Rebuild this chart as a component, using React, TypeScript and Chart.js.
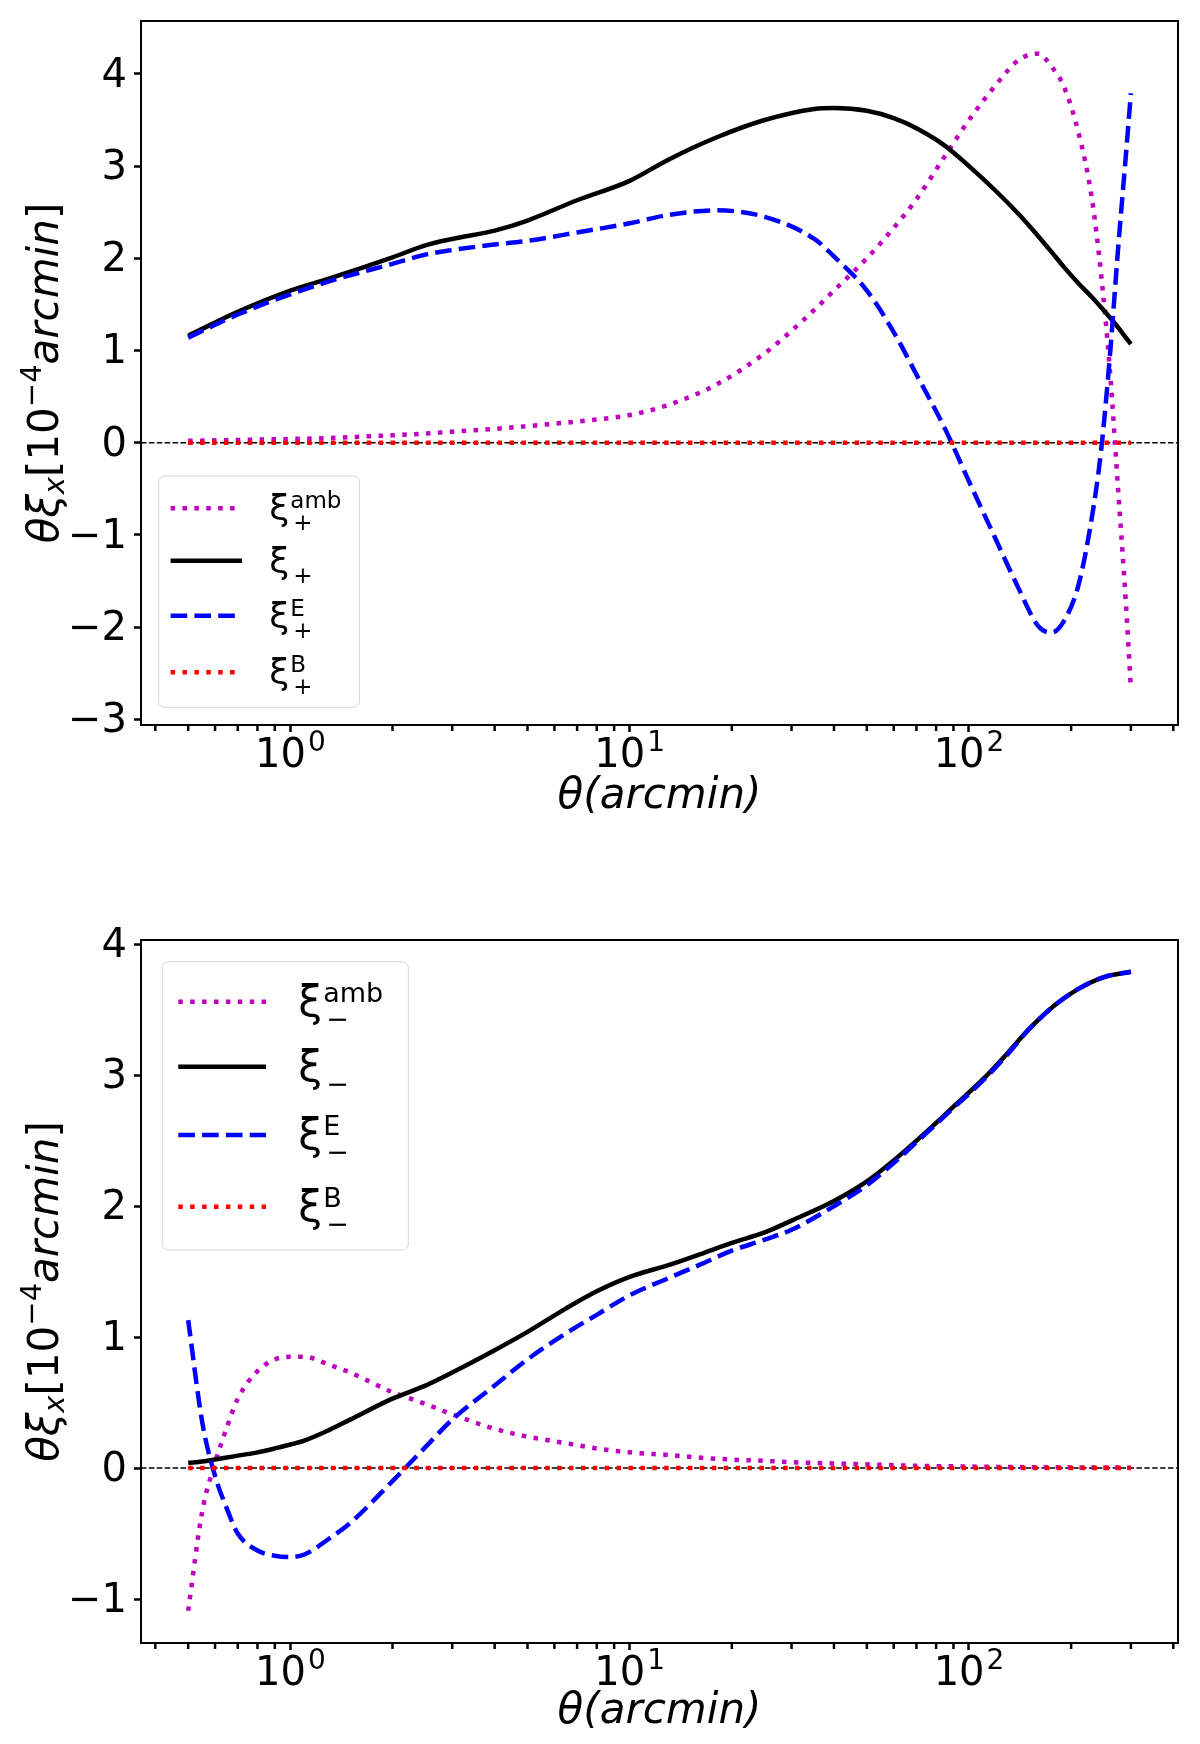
import { useEffect, useRef } from 'react';
import { Chart, registerables } from 'chart.js';

Chart.register(...registerables);

const FONT = "'DejaVu Sans', sans-serif";

// upper panel: xi_plus family
const thetaPlus = [0.5, 0.7, 1, 1.3, 1.7, 2, 2.5, 3, 4, 5, 7, 10, 13, 18, 25, 35, 40, 50, 60, 70, 85, 100, 120, 140, 160, 175, 190, 210, 230, 245, 260, 275, 290, 300];
const xiPlusAmb = [0.02, 0.03, 0.04, 0.05, 0.07, 0.08, 0.1, 0.12, 0.15, 0.18, 0.23, 0.3, 0.41, 0.63, 0.97, 1.44, 1.65, 2.0, 2.33, 2.64, 3.11, 3.5, 3.88, 4.15, 4.22, 4.08, 3.87, 3.37, 2.66, 1.83, 0.8, -0.5, -1.74, -2.67];
const xiPlus = [1.16, 1.42, 1.65, 1.78, 1.92, 2.01, 2.14, 2.21, 2.3, 2.41, 2.63, 2.84, 3.07, 3.31, 3.5, 3.62, 3.63, 3.6, 3.52, 3.41, 3.22, 3.0, 2.73, 2.48, 2.24, 2.07, 1.91, 1.73, 1.58, 1.47, 1.36, 1.25, 1.14, 1.07];
const xiPlusE = [1.14, 1.39, 1.61, 1.75, 1.87, 1.94, 2.04, 2.09, 2.15, 2.19, 2.28, 2.38, 2.47, 2.52, 2.45, 2.21, 2.02, 1.65, 1.2, 0.74, 0.15, -0.42, -1.05, -1.58, -1.99, -2.06, -1.94, -1.55, -0.82, -0.09, 0.93, 2.1, 3.12, 3.79];
const xiPlusB = [0, 0, 0, 0, 0, 0, 0, 0, 0, 0, 0, 0, 0, 0, 0, 0, 0, 0, 0, 0, 0, 0, 0, 0, 0, 0, 0, 0, 0, 0, 0, 0, 0, 0];

// lower panel: xi_minus family
const thetaMinus = [0.5, 0.55, 0.6, 0.65, 0.7, 0.8, 0.9, 1, 1.1, 1.3, 1.5, 2, 2.5, 3, 4, 5, 6.5, 8, 10, 13, 16, 20, 25, 30, 40, 50, 60, 75, 90, 110, 130, 150, 180, 210, 250, 300];
const xiMinusAmb = [-1.09, -0.33, 0.04, 0.31, 0.53, 0.74, 0.83, 0.85, 0.85, 0.79, 0.73, 0.58, 0.49, 0.41, 0.3, 0.24, 0.19, 0.15, 0.12, 0.1, 0.08, 0.065, 0.055, 0.045, 0.035, 0.028, 0.022, 0.016, 0.013, 0.01, 0.008, 0.007, 0.006, 0.005, 0.004, 0.003];
const xiMinus = [0.04, 0.05, 0.065, 0.08, 0.095, 0.12, 0.15, 0.18, 0.21, 0.29, 0.37, 0.53, 0.63, 0.73, 0.9, 1.04, 1.22, 1.35, 1.46, 1.55, 1.63, 1.72, 1.8, 1.89, 2.04, 2.19, 2.35, 2.57, 2.76, 2.97, 3.17, 3.35, 3.54, 3.66, 3.75, 3.79];
const xiMinusE = [1.13, 0.35, -0.06, -0.31, -0.5, -0.63, -0.67, -0.68, -0.66, -0.54, -0.42, -0.1, 0.16, 0.37, 0.63, 0.83, 1.03, 1.17, 1.32, 1.45, 1.55, 1.66, 1.745, 1.82, 2.0, 2.16, 2.33, 2.56, 2.75, 2.96, 3.16, 3.35, 3.54, 3.66, 3.75, 3.79];
const xiMinusB = [0, 0, 0, 0, 0, 0, 0, 0, 0, 0, 0, 0, 0, 0, 0, 0, 0, 0, 0, 0, 0, 0, 0, 0, 0, 0, 0, 0, 0, 0, 0, 0, 0, 0, 0, 0];

const xMajorTicks = [1, 10, 100];
const xTickExponents = ['0', '1', '2'];
const yTicksPlus = [-3, -2, -1, 0, 1, 2, 3, 4];
const yTicksMinus = [-1, 0, 1, 2, 3, 4];
const legendSupers = ['amb', '', 'E', 'B'];

const styles = [
  { color: '#bf00bf', dash: [4.5, 7.4], order: 3 },
  { color: '#000000', dash: [], order: 2 },
  { color: '#0000ff', dash: [16.6, 7.2], order: 1 },
  { color: '#ff0000', dash: [4.5, 7.4], order: 0 },
];

const decorPlugin = {
  id: 'decor',
  beforeDatasetsDraw(chart: any) {
    const { ctx, chartArea: a, scales } = chart;
    const y0 = scales.y.getPixelForValue(0);
    ctx.save();
    ctx.strokeStyle = '#000';
    ctx.lineWidth = 1.4;
    ctx.setLineDash([5.5, 2.4]);
    ctx.beginPath();
    ctx.moveTo(a.left, y0);
    ctx.lineTo(a.right, y0);
    ctx.stroke();
    ctx.restore();
  },
  afterDatasetsDraw(chart: any) {
    const { ctx, chartArea: a, scales } = chart;
    ctx.save();
    ctx.strokeStyle = '#000';
    ctx.lineWidth = 2;
    ctx.strokeRect(a.left, a.top, a.right - a.left, a.bottom - a.top);
    // minor ticks of the log axis
    const xs = scales.x;
    ctx.lineWidth = 2.5;
    for (let k = -1; k <= 2; k++) {
      for (let m = 2; m <= 9; m++) {
        const v = m * Math.pow(10, k);
        if (v < xs.min || v > xs.max) continue;
        const px = xs.getPixelForValue(v);
        ctx.beginPath();
        ctx.moveTo(px, a.bottom);
        ctx.lineTo(px, a.bottom + 6);
        ctx.stroke();
      }
    }
    // major tick labels 10^n with raised exponent
    ctx.fillStyle = '#000';
    ctx.textBaseline = 'alphabetic';
    ctx.textAlign = 'left';
    xMajorTicks.forEach((v, i) => {
      const px = xs.getPixelForValue(v);
      ctx.font = `40px ${FONT}`;
      const w1 = ctx.measureText('10').width;
      ctx.font = `28px ${FONT}`;
      const w2 = ctx.measureText(xTickExponents[i]).width;
      const left = px - (w1 + w2 + 2) / 2;
      ctx.font = `40px ${FONT}`;
      ctx.fillText('10', left, a.bottom + 42);
      ctx.font = `28px ${FONT}`;
      ctx.fillText(xTickExponents[i], left + w1 + 2, a.bottom + 26);
    });
    ctx.restore();
  },
  afterDraw(chart: any, _args: any, opts: any) {
    const { ctx, chartArea: a } = chart;
    const lg = opts.legend;
    ctx.save();
    // legend frame
    ctx.fillStyle = 'rgba(255,255,255,0.8)';
    ctx.strokeStyle = '#d4d4d4';
    ctx.lineWidth = 1;
    ctx.beginPath();
    ctx.roundRect(lg.x, lg.y, lg.w, lg.h, 6);
    ctx.fill();
    ctx.stroke();
    styles.forEach((s, i) => {
      const ry = lg.rows[i];
      ctx.strokeStyle = s.color;
      ctx.lineWidth = 4.5;
      ctx.lineCap = 'butt';
      ctx.setLineDash(s.dash);
      ctx.beginPath();
      ctx.moveTo(lg.lineX0, ry);
      ctx.lineTo(lg.lineX1, ry);
      ctx.stroke();
      ctx.setLineDash([]);
      ctx.fillStyle = '#000';
      ctx.textBaseline = 'alphabetic';
      ctx.textAlign = 'left';
      ctx.font = `${lg.size}px ${FONT}`;
      ctx.fillText('ξ', lg.textX, ry + lg.baseOff);
      const w = ctx.measureText('ξ').width;
      ctx.font = `${lg.supSize}px ${FONT}`;
      if (legendSupers[i]) ctx.fillText(legendSupers[i], lg.textX + w + 1, ry + lg.supOff);
      ctx.fillText(opts.sign, lg.textX + w + 4, ry + lg.subOff);
    });
    // y axis title with sub/superscripts
    const segs = [
      { t: 'θξ', it: true, size: 42, dy: 0 },
      { t: 'x', it: true, size: 29, dy: 6 },
      { t: '[10', it: false, size: 42, dy: 0 },
      { t: '−4', it: false, size: 29, dy: -17 },
      { t: 'arcmin', it: true, size: 42, dy: 0 },
      { t: ']', it: false, size: 42, dy: 0 },
    ];
    const fontOf = (sg: any) => `${sg.it ? 'italic ' : ''}${sg.size}px ${FONT}`;
    let total = 0;
    const widths = segs.map((sg) => {
      ctx.font = fontOf(sg);
      const ww = ctx.measureText(sg.t).width;
      total += ww;
      return ww;
    });
    ctx.translate(opts.titleX, (a.top + a.bottom) / 2);
    ctx.rotate(-Math.PI / 2);
    let cx = -total / 2;
    segs.forEach((sg, i) => {
      ctx.font = fontOf(sg);
      ctx.fillText(sg.t, cx, sg.dy);
      cx += widths[i];
    });
    ctx.restore();
  },
};

const fmtY = (v: number) => (v < 0 ? '−' + Math.abs(v) : String(v));

function makeConfig(p: any) {
  const series = [p.amb, p.total, p.e, p.b];
  const tickGrid = { drawOnChartArea: false, drawTicks: true, tickLength: 7, tickWidth: 2.5, tickColor: '#000' };
  return {
    type: 'line',
    data: {
      datasets: series.map((vals: number[], i: number) => ({
        label: p.names[i],
        data: p.theta.map((t: number, j: number) => ({ x: t, y: vals[j] })),
        borderColor: styles[i].color,
        borderWidth: 4.5,
        borderDash: styles[i].dash,
        borderCapStyle: 'butt',
        pointRadius: 0,
        fill: false,
        cubicInterpolationMode: 'monotone',
        order: styles[i].order,
      })),
    },
    options: {
      animation: false,
      responsive: false,
      events: [],
      layout: { padding: { top: p.padTop, right: 22, left: 0, bottom: 0 } },
      scales: {
        x: {
          type: 'logarithmic',
          min: 0.363,
          max: 413,
          afterBuildTicks: (s: any) => {
            s.ticks = xMajorTicks.map((v) => ({ value: v }));
          },
          afterFit: (s: any) => {
            s.height = p.xAxisHeight;
          },
          ticks: { display: false },
          grid: tickGrid,
          border: { display: false },
          title: {
            display: true,
            text: 'θ(arcmin)',
            color: '#000',
            font: { family: FONT, size: 42, style: 'italic' },
            padding: { top: 0, bottom: p.titlePad },
          },
        },
        y: {
          min: p.yMin,
          max: p.yMax,
          afterBuildTicks: (s: any) => {
            s.ticks = p.yTicks.map((v: number) => ({ value: v }));
          },
          afterFit: (s: any) => {
            s.width = 141;
          },
          ticks: {
            color: '#000',
            padding: 7,
            labelOffset: 2.5,
            font: { family: FONT, size: 40, lineHeight: 0.5 },
            callback: (v: any) => fmtY(Number(v)),
          },
          grid: tickGrid,
          border: { display: false },
        },
      },
      plugins: {
        legend: { display: false },
        tooltip: { enabled: false },
        decor: { legend: p.legend, sign: p.sign, titleX: 58 },
      },
    },
    plugins: [decorPlugin],
  };
}

const topPanel = {
  theta: thetaPlus,
  amb: xiPlusAmb,
  total: xiPlus,
  e: xiPlusE,
  b: xiPlusB,
  names: ['xi+ amb', 'xi+', 'xi+ E', 'xi+ B'],
  sign: '+',
  yMin: -3.062,
  yMax: 4.574,
  yTicks: yTicksPlus,
  padTop: 21,
  xAxisHeight: 147,
  titlePad: 50,
  legend: {
    x: 158.7, y: 476, w: 200.7, h: 231.3,
    rows: [508.3, 560.7, 615.7, 672.3],
    lineX0: 170.6, lineX1: 242, textX: 269.3,
    size: 36, supSize: 23, baseOff: 12, supOff: 0, subOff: 22,
  },
};

const bottomPanel = {
  theta: thetaMinus,
  amb: xiMinusAmb,
  total: xiMinus,
  e: xiMinusE,
  b: xiMinusB,
  names: ['xi- amb', 'xi-', 'xi- E', 'xi- B'],
  sign: '−',
  yMin: -1.336,
  yMax: 4.033,
  yTicks: yTicksMinus,
  padTop: 68,
  xAxisHeight: 101,
  titlePad: 7,
  legend: {
    x: 162.3, y: 89.7, w: 246, h: 288.3,
    rows: [129.7, 194.7, 263, 334.7],
    lineX0: 178.3, lineX1: 266, textX: 298.3,
    size: 43, supSize: 27, baseOff: 14, supOff: 0, subOff: 26,
  },
};

function Panel({ spec }: { spec: any }) {
  const canvasRef = useRef<HTMLCanvasElement | null>(null);

  useEffect(() => {
    if (!canvasRef.current) return;
    const chart = new Chart(canvasRef.current, makeConfig(spec) as any);
    return () => {
      chart.destroy();
    };
  }, [spec]);

  return <canvas ref={canvasRef} width={1200} height={872} style={{ display: 'block', width: 1200, height: 872 }} />;
}

export default function App() {
  return (
    <div style={{ position: 'absolute', left: 0, top: 0, width: 1200, height: 1744, background: '#fff' }}>
      <Panel spec={topPanel} />
      <Panel spec={bottomPanel} />
    </div>
  );
}
